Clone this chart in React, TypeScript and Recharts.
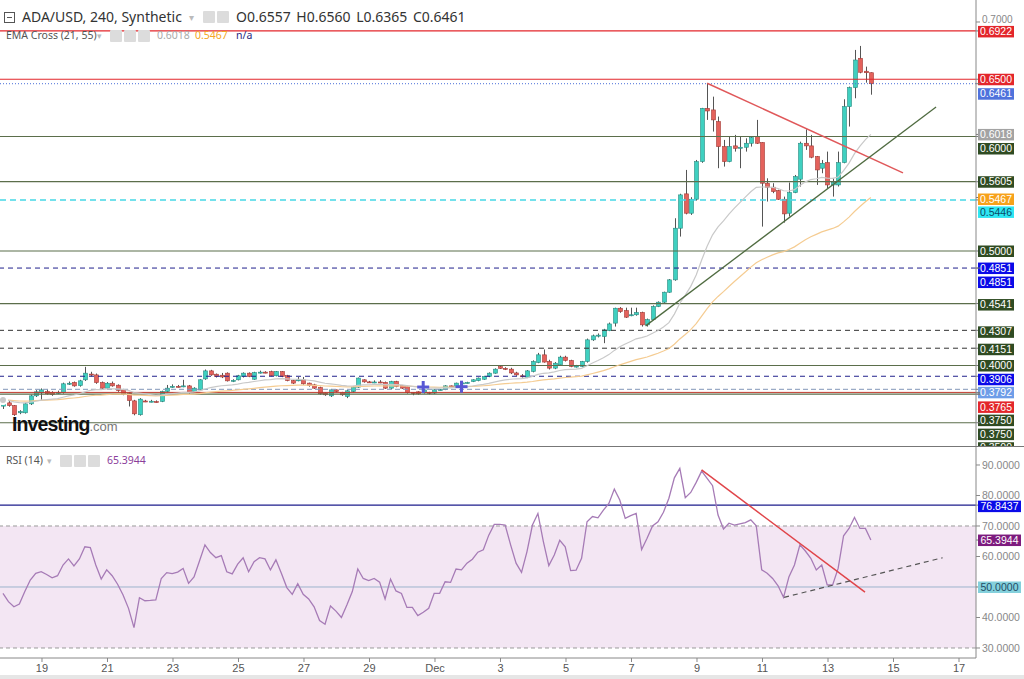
import { Bar, ComposedChart, Line, ReferenceArea, ReferenceDot, ReferenceLine, XAxis, YAxis } from "recharts";

// ADA/USD 4h candles, first bar ~ Nov 17 19:00, last ~ Dec 14 08:00
const START_DAY = 17.809;
const BAR_DAYS = 1 / 6;

const OPEN = [
  0.3645, 0.3674, 0.365, 0.3587, 0.3587, 0.3665, 0.3735, 0.3761, 0.3772, 0.3765,
  0.3762, 0.3765, 0.3842, 0.3852, 0.3825, 0.3875, 0.3925, 0.3918, 0.3851, 0.3802,
  0.3845, 0.3828, 0.3787, 0.3759, 0.3691, 0.357, 0.369, 0.3686, 0.3685, 0.3686,
  0.3773, 0.3815, 0.3818, 0.3818, 0.3822, 0.3773, 0.3787, 0.3883, 0.3953, 0.3924,
  0.3915, 0.3933, 0.3868, 0.3875, 0.3904, 0.3933, 0.388, 0.3938, 0.3942, 0.3947,
  0.391, 0.3947, 0.3912, 0.3868, 0.387, 0.3875, 0.3846, 0.3831, 0.3808, 0.3759,
  0.3735, 0.3787, 0.3765, 0.373, 0.3773, 0.3811, 0.3875, 0.3857, 0.3855, 0.3856,
  0.3853, 0.3802, 0.386, 0.3825, 0.3816, 0.3764, 0.377, 0.3761, 0.3765, 0.3759,
  0.3787, 0.379, 0.3822, 0.3817, 0.3846, 0.3848, 0.386, 0.3868, 0.388, 0.3904,
  0.3933, 0.399, 0.3975, 0.3968, 0.3935, 0.391, 0.3898, 0.3948, 0.4026, 0.4093,
  0.4035, 0.3977, 0.4006, 0.4073, 0.4044, 0.3991, 0.3991, 0.4035, 0.4224, 0.4259,
  0.4253, 0.4305, 0.437, 0.45, 0.448, 0.444, 0.4443, 0.4463, 0.4355, 0.44,
  0.4515, 0.4553, 0.464, 0.4748, 0.5199, 0.5499, 0.533, 0.5452, 0.5781, 0.6246,
  0.6232, 0.613, 0.5912, 0.5781, 0.5918, 0.5897, 0.5906, 0.5941, 0.5999, 0.5947,
  0.5592, 0.5557, 0.5528, 0.5452, 0.533, 0.551, 0.5627, 0.5941, 0.5918, 0.5825,
  0.5723, 0.5772, 0.5577, 0.5577, 0.5772, 0.6261, 0.6427, 0.6683, 0.657, 0.6557,
];
const HIGH = [
  0.37, 0.369, 0.3655, 0.361, 0.3675, 0.3745, 0.3785, 0.38, 0.379, 0.3775,
  0.378, 0.385, 0.386, 0.386, 0.3875, 0.3988, 0.3945, 0.393, 0.386, 0.3855,
  0.386, 0.3835, 0.3795, 0.3765, 0.37, 0.3715, 0.37, 0.37, 0.3695, 0.378,
  0.383, 0.3835, 0.383, 0.3875, 0.383, 0.381, 0.388, 0.3965, 0.3962, 0.393,
  0.3935, 0.394, 0.388, 0.3918, 0.394, 0.394, 0.3945, 0.3955, 0.395, 0.3955,
  0.3952, 0.3952, 0.3918, 0.3875, 0.39, 0.39, 0.385, 0.384, 0.3815, 0.3765,
  0.3795, 0.379, 0.377, 0.3785, 0.3818, 0.3895, 0.388, 0.3865, 0.387, 0.3872,
  0.386, 0.3866, 0.3866, 0.383, 0.3822, 0.3768, 0.3775, 0.3792, 0.377, 0.3792,
  0.3795, 0.3828, 0.3825, 0.385, 0.3855, 0.3858, 0.388, 0.3895, 0.391, 0.394,
  0.3975, 0.4, 0.3985, 0.398, 0.3945, 0.3925, 0.396, 0.4045, 0.411, 0.414,
  0.405, 0.403, 0.4085, 0.4085, 0.405, 0.4005, 0.404, 0.4235, 0.427, 0.428,
  0.432, 0.4375, 0.4505, 0.451, 0.4505, 0.4505, 0.4505, 0.447, 0.441, 0.4525,
  0.456, 0.4645, 0.4755, 0.5286, 0.55, 0.5708, 0.547, 0.5795, 0.625, 0.6465,
  0.6348, 0.6174, 0.597, 0.5999, 0.6014, 0.5999, 0.5984, 0.5999, 0.6145, 0.595,
  0.5635, 0.5592, 0.5535, 0.5475, 0.5598, 0.5664, 0.5955, 0.6063, 0.6014, 0.583,
  0.5795, 0.5868, 0.5635, 0.5868, 0.6325, 0.6436, 0.6756, 0.6791, 0.661, 0.656,
];
const LOW = [
  0.362, 0.364, 0.356, 0.3575, 0.358, 0.3655, 0.3725, 0.37, 0.3745, 0.3735,
  0.375, 0.3755, 0.383, 0.3815, 0.3815, 0.3865, 0.3905, 0.384, 0.3795, 0.3795,
  0.3815, 0.377, 0.374, 0.3642, 0.3565, 0.3562, 0.368, 0.3678, 0.3675, 0.368,
  0.3765, 0.3805, 0.3808, 0.381, 0.3755, 0.3765, 0.378, 0.3875, 0.391, 0.3895,
  0.389, 0.386, 0.3855, 0.387, 0.3895, 0.3898, 0.3875, 0.393, 0.3932, 0.3905,
  0.3905, 0.3898, 0.3862, 0.3838, 0.3862, 0.3832, 0.3815, 0.3795, 0.3745, 0.3735,
  0.3725, 0.3765, 0.3735, 0.3715, 0.3765, 0.3805, 0.385, 0.3848, 0.3846, 0.3845,
  0.3795, 0.3795, 0.381, 0.3795, 0.3755, 0.374, 0.3745, 0.3755, 0.3748, 0.3752,
  0.3782, 0.3785, 0.3812, 0.381, 0.3838, 0.3842, 0.3855, 0.3862, 0.3875, 0.3898,
  0.3928, 0.397, 0.396, 0.3925, 0.391, 0.3895, 0.389, 0.394, 0.402, 0.4025,
  0.3965, 0.3968, 0.4, 0.4035, 0.3985, 0.3982, 0.3985, 0.4025, 0.4215, 0.4245,
  0.4195, 0.43, 0.434, 0.446, 0.4415, 0.443, 0.4435, 0.434, 0.434, 0.4395,
  0.451, 0.4545, 0.4635, 0.474, 0.5126, 0.532, 0.5315, 0.544, 0.577, 0.6145,
  0.6043, 0.5723, 0.5737, 0.5775, 0.5868, 0.5723, 0.5868, 0.5912, 0.5935, 0.5213,
  0.5432, 0.5505, 0.5446, 0.5248, 0.5301, 0.5505, 0.5563, 0.5883, 0.581, 0.5577,
  0.5679, 0.5548, 0.5475, 0.5563, 0.5766, 0.6087, 0.6334, 0.6552, 0.647, 0.6365,
];
const CLOSE = [
  0.3674, 0.365, 0.357, 0.3598, 0.3665, 0.3735, 0.377, 0.3787, 0.3753, 0.3745,
  0.3765, 0.384, 0.3845, 0.3822, 0.3866, 0.3933, 0.3922, 0.3851, 0.3802, 0.3845,
  0.3822, 0.3781, 0.375, 0.3694, 0.3578, 0.3706, 0.3686, 0.3688, 0.3683, 0.3773,
  0.3802, 0.3818, 0.3816, 0.3822, 0.3764, 0.3802, 0.3875, 0.3953, 0.3918, 0.3904,
  0.39, 0.3866, 0.387, 0.391, 0.3933, 0.3904, 0.3938, 0.3942, 0.394, 0.391,
  0.3947, 0.3904, 0.3868, 0.3846, 0.3875, 0.384, 0.3825, 0.3802, 0.3753, 0.3744,
  0.3787, 0.3773, 0.3744, 0.3779, 0.3811, 0.389, 0.3857, 0.3855, 0.3856, 0.3853,
  0.3802, 0.386, 0.3816, 0.3802, 0.3764, 0.376, 0.3753, 0.3787, 0.3759, 0.3787,
  0.379, 0.3822, 0.3817, 0.3846, 0.3848, 0.3852, 0.3875, 0.389, 0.3904, 0.3933,
  0.3968, 0.3975, 0.3968, 0.3935, 0.3918, 0.3906, 0.3953, 0.4035, 0.4093, 0.403,
  0.3977, 0.402, 0.4073, 0.4044, 0.3991, 0.3995, 0.4035, 0.4224, 0.4259, 0.4265,
  0.4311, 0.4363, 0.45, 0.4471, 0.4422, 0.4443, 0.4463, 0.4355, 0.44, 0.4515,
  0.4553, 0.464, 0.4748, 0.5199, 0.549, 0.533, 0.5452, 0.5781, 0.6246, 0.6223,
  0.6145, 0.5912, 0.5781, 0.5912, 0.5897, 0.5906, 0.5941, 0.599, 0.5941, 0.5592,
  0.5557, 0.5519, 0.5452, 0.5324, 0.551, 0.565, 0.5941, 0.5918, 0.5819, 0.5708,
  0.5766, 0.5577, 0.5598, 0.5772, 0.6261, 0.6427, 0.6668, 0.6561, 0.6557, 0.6461,
];
const EMA21 = [
  0.3698, 0.3694, 0.3683, 0.3675, 0.3674, 0.368, 0.3688, 0.3697, 0.3702, 0.3706,
  0.3711, 0.3723, 0.3734, 0.3742, 0.3753, 0.3769, 0.3783, 0.3789, 0.379, 0.3795,
  0.3797, 0.3796, 0.3792, 0.3783, 0.3764, 0.3759, 0.3752, 0.3746, 0.374, 0.3743,
  0.3748, 0.3754, 0.376, 0.3766, 0.3766, 0.3769, 0.3779, 0.3795, 0.3806, 0.3815,
  0.3823, 0.3827, 0.3831, 0.3838, 0.3847, 0.3852, 0.386, 0.3867, 0.3874, 0.3877,
  0.3883, 0.3885, 0.3883, 0.388, 0.388, 0.3876, 0.3871, 0.3865, 0.3855, 0.3845,
  0.384, 0.3834, 0.3826, 0.3822, 0.3821, 0.3827, 0.383, 0.3832, 0.3834, 0.3836,
  0.3833, 0.3835, 0.3833, 0.383, 0.3824, 0.3818, 0.3812, 0.381, 0.3805, 0.3803,
  0.3802, 0.3804, 0.3805, 0.3809, 0.3813, 0.3816, 0.3821, 0.3828, 0.3835, 0.3844,
  0.3855, 0.3866, 0.3875, 0.388, 0.3884, 0.3886, 0.3892, 0.3905, 0.3922, 0.3932,
  0.3936, 0.3944, 0.3956, 0.3964, 0.3966, 0.3969, 0.3975, 0.3998, 0.4022, 0.4044,
  0.4068, 0.4095, 0.4132, 0.4163, 0.4187, 0.421, 0.4233, 0.4244, 0.4258, 0.4281,
  0.4306, 0.4336, 0.4374, 0.4449, 0.4544, 0.4615, 0.4691, 0.479, 0.4922, 0.5041,
  0.5141, 0.5211, 0.5263, 0.5322, 0.5374, 0.5423, 0.547, 0.5517, 0.5556, 0.5559,
  0.5559, 0.5555, 0.5546, 0.5526, 0.5524, 0.5536, 0.5573, 0.5604, 0.5624, 0.5631,
  0.5643, 0.5637, 0.5634, 0.5646, 0.5702, 0.5768, 0.585, 0.5915, 0.5973, 0.6018,
];
const EMA55 = [
  0.3699, 0.3697, 0.3693, 0.369, 0.3689, 0.369, 0.3693, 0.3696, 0.3698, 0.37,
  0.3702, 0.3707, 0.3712, 0.3716, 0.3721, 0.3729, 0.3736, 0.374, 0.3742, 0.3746,
  0.3749, 0.375, 0.375, 0.3748, 0.3742, 0.3741, 0.3739, 0.3737, 0.3735, 0.3736,
  0.3738, 0.3741, 0.3744, 0.3747, 0.3748, 0.375, 0.3754, 0.3761, 0.3767, 0.3772,
  0.3776, 0.3779, 0.3782, 0.3787, 0.3792, 0.3796, 0.3801, 0.3806, 0.3811, 0.3815,
  0.382, 0.3823, 0.3825, 0.3826, 0.3828, 0.3828, 0.3828, 0.3827, 0.3824, 0.3821,
  0.382, 0.3818, 0.3815, 0.3814, 0.3814, 0.3817, 0.3818, 0.3819, 0.3821, 0.3822,
  0.3821, 0.3822, 0.3822, 0.3821, 0.3819, 0.3817, 0.3815, 0.3814, 0.3812, 0.3811,
  0.381, 0.3811, 0.3811, 0.3812, 0.3813, 0.3815, 0.3817, 0.382, 0.3823, 0.3827,
  0.3832, 0.3837, 0.3842, 0.3845, 0.3848, 0.385, 0.3854, 0.386, 0.3868, 0.3874,
  0.3878, 0.3883, 0.389, 0.3895, 0.3898, 0.3902, 0.3907, 0.3918, 0.393, 0.3942,
  0.3955, 0.397, 0.3989, 0.4006, 0.4021, 0.4036, 0.4051, 0.4062, 0.4074, 0.409,
  0.4107, 0.4126, 0.4148, 0.4186, 0.4232, 0.4271, 0.4313, 0.4365, 0.4432, 0.4496,
  0.4555, 0.4603, 0.4645, 0.469, 0.4733, 0.4775, 0.4817, 0.4859, 0.4898, 0.4923,
  0.4946, 0.4966, 0.4983, 0.4995, 0.5013, 0.5036, 0.5068, 0.5098, 0.5124, 0.5145,
  0.5167, 0.5182, 0.5197, 0.5217, 0.5254, 0.5296, 0.5345, 0.5388, 0.543, 0.5467,
];
const RSI = [
  47.9, 45.2, 43.5, 44.4, 48.5, 52.3, 54.5, 55.0, 54.1, 53.0,
  53.7, 57.2, 59.2, 56.9, 59.2, 63.2, 62.9, 57.2, 52.6, 55.6,
  53.7, 50.9, 47.4, 43.0, 36.7, 46.5, 45.5, 45.6, 45.8, 52.8,
  54.7, 54.4, 54.9, 56.1, 51.2, 53.3, 58.5, 63.8, 61.3, 59.6,
  60.3, 55.0, 54.3, 57.5, 59.6, 55.0, 58.3, 59.6, 59.2, 55.6,
  58.9, 54.5, 49.8, 47.6, 51.1, 47.6, 46.1, 43.5, 39.0, 37.8,
  43.8, 42.1, 40.0, 44.1, 48.5, 55.9, 52.8, 52.1, 52.8, 51.6,
  46.1, 52.6, 48.7, 47.9, 43.3, 43.3, 40.6, 41.7, 43.0, 47.9,
  47.9, 51.7, 51.5, 55.9, 55.6, 57.8, 59.1, 61.4, 62.2, 67.0,
  70.5, 70.5, 70.3, 63.8, 57.8, 54.8, 61.6, 70.3, 74.1, 64.9,
  57.0, 60.5, 65.3, 63.2, 55.4, 55.5, 59.4, 71.4, 73.1, 72.7,
  75.2, 77.4, 82.1, 78.5, 72.5, 73.4, 74.1, 62.3, 66.0, 70.0,
  71.4, 74.5, 79.1, 85.8, 88.9, 79.3, 81.0, 84.3, 88.0, 85.6,
  83.2, 73.6, 69.0, 70.9, 70.3, 70.7, 71.1, 72.0, 70.1, 55.6,
  54.5, 52.8, 50.4, 46.6, 53.4, 57.2, 63.8, 61.8, 59.4, 55.6,
  57.2, 50.7, 50.7, 56.1, 66.8, 69.2, 72.8, 69.2, 69.2, 65.3944,
];

// drawn horizontal levels (price) and right-side tags
const LEVELS = [0.6922, 0.65, 0.6, 0.5605, 0.5446, 0.5, 0.4851, 0.4541, 0.4307, 0.4151, 0.4, 0.3906, 0.3792, 0.3765, 0.375, 0.35];
const LAST_PRICE = 0.6461;
const RSI_LEVEL = 76.8437;
const EMA_CROSS_DAYS = [30.64, 31.81];
const EMA_CROSS_PRICES = [0.3812, 0.3815];
// trend lines: [day, value] pairs
const PRICE_DOWN_TREND = [[39.31, 0.6465], [45.29, 0.5682]];
const PRICE_UP_TREND = [[37.43, 0.4346], [46.3, 0.6258]];
const RSI_DOWN_TREND = [[39.14, 88.4], [44.13, 48.3]];
const RSI_UP_TREND = [[41.66, 46.6], [46.5, 59.6]];
const DAY_TICKS = [19, 21, 23, 25, 27, 29, 31, 33, 35, 37, 39, 41, 43, 45, 47];

const data = CLOSE.map((close, i) => ({
  t: START_DAY + i * BAR_DAYS,
  open: OPEN[i],
  high: HIGH[i],
  low: LOW[i],
  close,
  ema21: EMA21[i],
  ema55: EMA55[i],
  rsi: RSI[i],
}));

const X_DOMAIN = [17.718, 47.519];
const OLIVE = "#5b6e4b";
const TAG_GREEN = "#2f4b22";
const RED = "#e3262b";

const LEVEL_LOOK = [
  { stroke: RED, dash: undefined, bg: RED, fg: "#fff", dy: 0.5, w: 1.2 },
  { stroke: RED, dash: undefined, bg: RED, fg: "#fff", dy: 0, w: 1.2 },
  { stroke: OLIVE, dash: undefined, bg: TAG_GREEN, fg: "#fff", dy: 12, w: 1.2 },
  { stroke: OLIVE, dash: undefined, bg: TAG_GREEN, fg: "#fff", dy: 0, w: 1.2 },
  { stroke: "#45d8e6", dash: "6 4", bg: "#2ee6f2", fg: "#0b4a66", dy: 12, w: 1.4 },
  { stroke: OLIVE, dash: undefined, bg: TAG_GREEN, fg: "#fff", dy: 0, w: 1.2 },
  { stroke: "#20208c", dash: "5 4", bg: "#0a0ae8", fg: "#fff", dy: 0, w: 1 },
  { stroke: OLIVE, dash: undefined, bg: TAG_GREEN, fg: "#fff", dy: 1, w: 1.2 },
  { stroke: "#333", dash: "5 4", bg: TAG_GREEN, fg: "#fff", dy: 1.5, w: 1 },
  { stroke: "#333", dash: "5 4", bg: TAG_GREEN, fg: "#fff", dy: 1, w: 1 },
  { stroke: OLIVE, dash: undefined, bg: TAG_GREEN, fg: "#fff", dy: 0, w: 1.2 },
  { stroke: "#20208c", dash: "5 4", bg: "#0a0ae8", fg: "#fff", dy: 3, w: 1 },
  { stroke: "#8196b8", dash: "5 3", bg: "#6e9de8", fg: "#fff", dy: 3, w: 1 },
  { stroke: "#c0392b", dash: undefined, bg: RED, fg: "#fff", dy: 14.5, w: 1 },
  { stroke: OLIVE, dash: undefined, bg: TAG_GREEN, fg: "#fff", dy: 26, w: 1.2 },
  { stroke: OLIVE, dash: undefined, bg: TAG_GREEN, fg: "#fff", dy: 25, w: 1.2 },
];

const TAG_FONT = "'Liberation Sans', Arial, sans-serif";

const tag = (text: string, bg: string, fg: string, dy = 0, w = 36) => (p: any) => {
  const vb = p.viewBox;
  const x = vb.x + vb.width;
  const y = vb.y + dy;
  return (
    <g>
      <line x1={x} x2={x + 4} y1={vb.y} y2={vb.y} stroke="#777" />
      <rect x={x + 2} y={y - 5.5} width={w} height={11.5} fill={bg} />
      <text x={x + 2 + w / 2} y={y + 3.6} textAnchor="middle" fontSize={10.5} fill={fg} fontFamily={TAG_FONT}>
        {text}
      </text>
    </g>
  );
};

function Candle(props: any) {
  const { x, y, width, height, payload } = props;
  if (!payload) return null;
  const { open, high, low, close } = payload;
  const top = Math.min(y, y + height);
  const span = Math.abs(height);
  const k = span / (high - low);
  const cx = Math.round(x + width / 2) + 0.5;
  const up = close >= open;
  const bodyTop = top + (high - Math.max(open, close)) * k;
  const bodyH = Math.max(1, Math.abs(open - close) * k);
  return (
    <g>
      <line x1={cx} x2={cx} y1={top} y2={top + span} stroke="#555" strokeWidth={1} />
      <rect
        x={cx - 2}
        y={bodyTop}
        width={4}
        height={bodyH}
        fill={up ? "#3fd0c0" : "#e4625c"}
        stroke={up ? "#2a8a80" : "#a33a35"}
        strokeWidth={0.6}
      />
    </g>
  );
}

const PlusMark = (p: any) => (
  <g stroke="#5858d4" strokeWidth={3}>
    <line x1={p.cx - 6} x2={p.cx + 6} y1={p.cy} y2={p.cy} />
    <line x1={p.cx} x2={p.cx} y1={p.cy - 6} y2={p.cy + 6} />
  </g>
);

const dayLabel = (v: number) => (v === 31 ? "Dec" : String(v > 31 ? v - 30 : v));

function Icons({ n, left, top }: { n: number; left: number; top: number }) {
  return (
    <div style={{ position: "absolute", left, top, display: "flex", gap: 2 }}>
      {Array.from({ length: n }).map((_, i) => (
        <div key={i} style={{ width: 12, height: 12, background: "#dcdcdc", borderRadius: 1 }} />
      ))}
    </div>
  );
}

const txt = (left: number, top: number, size: number, color: string, extra: any = {}) => ({
  position: "absolute" as const,
  left,
  top,
  fontSize: size,
  color,
  whiteSpace: "nowrap" as const,
  lineHeight: 1,
  ...extra,
});

export default function App() {
  const font = "'Noto Sans', 'Open Sans', sans-serif";
  return (
    <div style={{ position: "relative", width: 1024, height: 679, background: "#fff", fontFamily: font, overflow: "hidden" }}>
      <style>{`body{margin:0}`}</style>

      <div style={{ position: "absolute", left: 0, top: 0 }}>
        <ComposedChart width={1024} height={446} data={data} margin={{ top: 0, right: 0, bottom: 0, left: 0 }}>
          <XAxis dataKey="t" type="number" domain={X_DOMAIN} allowDataOverflow hide />
          <YAxis
            orientation="right"
            width={48}
            domain={[0.32969, 0.71921]}
            allowDataOverflow
            ticks={[0.7]}
            tickFormatter={(v: number) => v.toFixed(4)}
            tick={{ fontSize: 10, fill: "#888", fontFamily: TAG_FONT, dy: -3 }}
            axisLine={{ stroke: "#888" }}
            tickLine={{ stroke: "#888" }}
            tickSize={4}
          />
          {LEVELS.map((v, i) => {
            const s = LEVEL_LOOK[i];
            return (
              <ReferenceLine
                key={`lv${i}`}
                y={v}
                stroke={s.stroke}
                strokeWidth={s.w}
                strokeDasharray={s.dash}
                label={tag(v.toFixed(4), s.bg, s.fg, s.dy)}
              />
            );
          })}
          <ReferenceLine y={LEVELS[6]} stroke="none" label={tag(LEVELS[6].toFixed(4), "#0a0ae8", "#fff", 14)} />
          <ReferenceLine y={LEVELS[14]} stroke="none" label={tag(LEVELS[14].toFixed(4), TAG_GREEN, "#fff", 40)} />
          <ReferenceLine
            y={LAST_PRICE}
            stroke="#4a6fd8"
            strokeDasharray="1 2"
            label={tag(LAST_PRICE.toFixed(4), "#4f72dc", "#fff", 10)}
          />
          <ReferenceLine y={EMA21[EMA21.length - 1]} stroke="none" label={tag(EMA21[EMA21.length - 1].toFixed(4), "#a3a3a3", "#fff", 0)} />
          <ReferenceLine y={EMA55[EMA55.length - 1]} stroke="none" label={tag(EMA55[EMA55.length - 1].toFixed(4), "#f7a21b", "#fff", 1.5)} />

          <Line dataKey="ema55" stroke="#f5cc92" strokeWidth={1.2} dot={false} isAnimationActive={false} />
          <Line dataKey="ema21" stroke="#c9c9c9" strokeWidth={1.2} dot={false} isAnimationActive={false} />
          <Bar dataKey={(d: any) => [d.low, d.high]} shape={Candle} barSize={4} isAnimationActive={false} />

          <ReferenceLine
            segment={PRICE_DOWN_TREND.map(([x, y]) => ({ x, y }))}
            stroke="#e0585a"
            strokeWidth={1.5}
          />
          <ReferenceLine
            segment={PRICE_UP_TREND.map(([x, y]) => ({ x, y }))}
            stroke="#4f6b40"
            strokeWidth={1.3}
          />
          {EMA_CROSS_DAYS.map((d, i) => (
            <ReferenceDot key={`x${i}`} x={d} y={EMA_CROSS_PRICES[i]} r={6} shape={PlusMark} />
          ))}
        </ComposedChart>
      </div>

      <div style={{ position: "absolute", left: 0, top: 446, width: 1024, height: 1, background: "#777" }} />

      <div style={{ position: "absolute", left: 0, top: 447 }}>
        <ComposedChart width={1024} height={228} data={data} margin={{ top: 0, right: 0, bottom: 0, left: 0 }}>
          <XAxis
            dataKey="t"
            type="number"
            domain={X_DOMAIN}
            allowDataOverflow
            ticks={DAY_TICKS}
            interval={0}
            tickFormatter={dayLabel}
            height={17}
            axisLine={{ stroke: "#888" }}
            tickLine={{ stroke: "#888" }}
            tickSize={4}
            tick={{ fontSize: 11, fill: "#555", fontFamily: "'Liberation Sans Narrow', 'Arial Narrow', sans-serif" }}
          />
          <YAxis
            orientation="right"
            width={48}
            domain={[26.72, 95.9]}
            allowDataOverflow
            ticks={[30, 40, 60, 70, 80, 90]}
            tickFormatter={(v: number) => v.toFixed(4)}
            tick={{ fontSize: 10.5, fill: "#888", fontFamily: TAG_FONT }}
            axisLine={{ stroke: "#888" }}
            tickLine={{ stroke: "#888" }}
            tickSize={4}
          />
          <ReferenceArea y1={30} y2={70} fill="#f3e6f3" fillOpacity={1} stroke="none" />
          <ReferenceLine y={70} stroke="#9a9a9a" strokeDasharray="4 3" />
          <ReferenceLine y={30} stroke="#9a9a9a" strokeDasharray="4 3" />
          <ReferenceLine y={50} stroke="#9db3cc" label={tag("50.0000", "#84d0dc", "#1f4d66", 0, 43)} />
          <ReferenceLine y={RSI_LEVEL} stroke="#1d1d8c" strokeWidth={1.2} label={tag(RSI_LEVEL.toFixed(4), "#0a0ae8", "#fff", 1, 43)} />
          <ReferenceLine
            y={RSI[RSI.length - 1]}
            stroke="none"
            label={tag(RSI[RSI.length - 1].toFixed(4), "#7d1b7e", "#fff", 0, 43)}
          />
          <Line dataKey="rsi" stroke="#a67bb6" strokeWidth={1.3} dot={false} isAnimationActive={false} />
          <ReferenceLine segment={RSI_DOWN_TREND.map(([x, y]) => ({ x, y }))} stroke="#e0454a" strokeWidth={1.5} />
          <ReferenceLine
            segment={RSI_UP_TREND.map(([x, y]) => ({ x, y }))}
            stroke="#555"
            strokeWidth={1.2}
            strokeDasharray="5 4"
          />
        </ComposedChart>
      </div>

      <div style={{ position: "absolute", left: 0, top: 675, width: 1024, height: 4, background: "#e6e6e6" }} />

      {/* header of price pane */}
      <div style={{ position: "absolute", left: 4, top: 12, width: 9, height: 9, border: "1px solid #555" }}>
        <div style={{ position: "absolute", left: 2, top: 4, width: 5, height: 1, background: "#555" }} />
      </div>
      <div style={txt(22, 10, 14, "#333")}>ADA/USD, 240, Synthetic</div>
      <div style={txt(189, 12, 10, "#bbb")}>▾</div>
      <Icons n={2} left={203} top={11} />
      <div style={txt(236, 10, 14, "#333", { wordSpacing: 2 })}>O0.6557 H0.6560 L0.6365 C0.6461</div>

      <div style={txt(6, 30, 10.5, "#555")}>EMA Cross (21, 55)</div>
      <div style={txt(97, 31, 9, "#bbb")}>▾</div>
      <Icons n={3} left={110} top={30} />
      <div style={txt(157, 30, 10.5, "#aaa")}>0.6018</div>
      <div style={txt(195, 30, 10.5, "#f5a623")}>0.5467</div>
      <div style={txt(236, 30, 10.5, "#2a2a80")}>n/a</div>

      <div style={{ position: "absolute", left: 12, top: 415, whiteSpace: "nowrap", lineHeight: 1 }}>
        <span style={{ fontFamily: TAG_FONT, fontWeight: 700, fontSize: 19.5, color: "#111", letterSpacing: -0.9 }}>Investing</span>
        <span style={{ fontFamily: TAG_FONT, fontSize: 13, color: "#777" }}>.com</span>
      </div>

      {/* header of RSI pane */}
      <div style={txt(6, 455, 10.5, "#555")}>RSI (14)</div>
      <div style={txt(47, 456, 9, "#bbb")}>▾</div>
      <Icons n={3} left={60} top={455} />
      <div style={txt(107, 455, 10.5, "#8b3d9b")}>65.3944</div>
    </div>
  );
}
